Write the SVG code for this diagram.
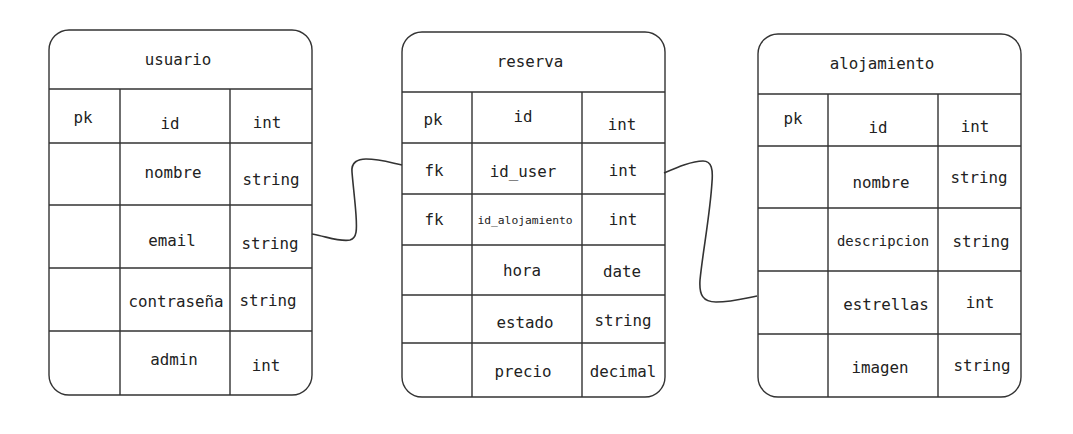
<svg xmlns="http://www.w3.org/2000/svg" width="1073" height="434" viewBox="0 0 1073 434">
<style>
.box{fill:#fff;stroke:#333;stroke-width:1.4}
.ln{stroke:#333;stroke-width:1.4;fill:none}
.t{font-family:"DejaVu Sans Mono","Liberation Mono",monospace;font-size:15.8px;fill:#222;text-anchor:middle;dominant-baseline:central}
.s{font-size:11.3px}
.m{font-size:13.9px}
.c{fill:none;stroke:#333;stroke-width:1.6}
</style>
<rect width="1073" height="434" fill="#fff"/>
<g id="usuario">
<rect class="box" x="49" y="30" width="263" height="365" rx="20"/>
<path class="ln" d="M49,89H312M49,143H312M49,205H312M49,268H312M49,331H312M120,89V395M230,89V395"/>
<text class="t" x="178" y="59">usuario</text>
<text class="t" x="83" y="117">pk</text>
<text class="t" x="170" y="123">id</text>
<text class="t" x="267" y="122">int</text>
<text class="t" x="173" y="172">nombre</text>
<text class="t" x="271" y="179">string</text>
<text class="t" x="172" y="240">email</text>
<text class="t" x="270" y="243">string</text>
<text class="t" x="176" y="301">contraseña</text>
<text class="t" x="268" y="300">string</text>
<text class="t" x="174" y="359">admin</text>
<text class="t" x="266" y="365">int</text>
</g>
<g id="reserva">
<rect class="box" x="402" y="32" width="263" height="365" rx="20"/>
<path class="ln" d="M402,92H665M402,143H665M402,194H665M402,245H665M402,295H665M402,343H665M472,92V397M582,92V397"/>
<text class="t" x="530" y="61">reserva</text>
<text class="t" x="433" y="119">pk</text>
<text class="t" x="523" y="116">id</text>
<text class="t" x="622" y="124">int</text>
<text class="t" x="434" y="170">fk</text>
<text class="t" x="523" y="171">id_user</text>
<text class="t" x="623" y="170">int</text>
<text class="t" x="434" y="219">fk</text>
<text class="t s" x="525" y="220">id_alojamiento</text>
<text class="t" x="623" y="219">int</text>
<text class="t" x="522" y="270">hora</text>
<text class="t" x="622" y="271">date</text>
<text class="t" x="525" y="322">estado</text>
<text class="t" x="623" y="320">string</text>
<text class="t" x="523" y="371">precio</text>
<text class="t" x="623" y="371">decimal</text>
</g>
<g id="alojamiento">
<rect class="box" x="758" y="34" width="263" height="363" rx="20"/>
<path class="ln" d="M758,94H1021M758,146H1021M758,208H1021M758,271H1021M758,334H1021M828,94V397M938,94V397"/>
<text class="t" x="882" y="63">alojamiento</text>
<text class="t" x="793" y="118">pk</text>
<text class="t" x="878" y="127">id</text>
<text class="t" x="975" y="126">int</text>
<text class="t" x="881" y="182">nombre</text>
<text class="t" x="979" y="177">string</text>
<text class="t m" x="883" y="241">descripcion</text>
<text class="t" x="981" y="241">string</text>
<text class="t" x="886" y="304">estrellas</text>
<text class="t" x="980" y="302">int</text>
<text class="t" x="880" y="367">imagen</text>
<text class="t" x="982" y="365">string</text>
</g>
<g id="connectors">
<path class="c" d="M312,234C328,237 340,242 350,240C357,238 357,230 356,215C355,200 353,185 352,172C351,162 358,159 366,159C380,159 392,163 402,165"/>
<path class="c" d="M664,173C678,167 692,161 703,161C712,161 713,170 712,182C710,215 703,250 700,280C699,295 703,302 716,302C733,302 746,298 757,296"/>
</g>
</svg>
